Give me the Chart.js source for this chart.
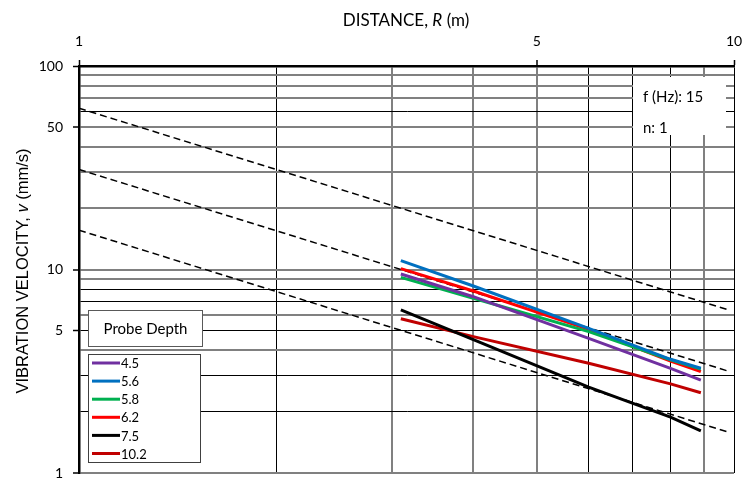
<!DOCTYPE html>
<html>
<head>
<meta charset="utf-8">
<script src="https://cdn.jsdelivr.net/npm/chart.js@4/dist/chart.umd.min.js"></script>
<style>
html, body { margin: 0; padding: 0; background: #fff; }
#wrap { width: 746px; height: 481px; position: relative; }
</style>
</head>
<body>
<div id="wrap"><canvas id="chart"></canvas></div>
<script>
// distances (m) at which the measured curves were read
const distances = [3.1, 4, 6, 8, 8.9];

// vibration velocity (mm/s) per probe depth
const depthLabels = ['4.5', '5.6', '5.8', '6.2', '7.5', '10.2'];
const depth45 = [9.5, 7.35, 4.59, 3.27, 2.86];
const depth56 = [11.05, 8.3, 5.14, 3.62, 3.27];
const depth58 = [9.15, 7.22, 4.95, 3.6, 3.24];
const depth62 = [10.1, 7.84, 5.08, 3.55, 3.15];
const depth75 = [6.34, 4.52, 2.64, 1.88, 1.61];
const depth102 = [5.73, 4.68, 3.46, 2.74, 2.48];
const depthColors = ['#7030A0', '#0070C0', '#00B050', '#FF0000', '#000000', '#C00000'];

// dashed reference lines (end points)
const refDistances = [1, 9.85];
const refHigh = [62, 6.3];
const refMid = [31, 3.15];
const refLow = [15.6, 1.58];

// axes
const xTicks = [1, 2, 3, 4, 5, 6, 7, 8, 9, 10];
const yTicks = [1, 2, 3, 4, 5, 6, 7, 8, 9, 10, 20, 30, 40, 50, 60, 70, 80, 90, 100];
const xLabels = [1, 5, 10];
const yLabels = [1, 5, 10, 50, 100];
const xGreyLines = [3, 4, 5, 9];
const yGreyLines = [1, 4, 6, 9, 10, 20, 30, 40, 50, 70, 80, 90];

const infoLines = ['f (Hz): 15', 'n: 1'];
const legendTitle = 'Probe Depth';

function points(xs, ys) {
    return xs.map((x, i) => ({ x: x, y: ys[i] }));
}

const seriesValues = [depth45, depth56, depth58, depth62, depth75, depth102];
const datasets = seriesValues.map((vals, i) => ({
    label: depthLabels[i],
    data: points(distances, vals),
    borderColor: depthColors[i],
    borderWidth: 3,
    pointRadius: 0,
    fill: false,
    tension: 0
}));
[refHigh, refMid, refLow].forEach(vals => {
    datasets.push({
        label: '',
        data: points(refDistances, vals),
        borderColor: '#000',
        borderWidth: 1.5,
        borderDash: [7, 4],
        pointRadius: 0,
        fill: false
    });
});

function drawMixed(ctx, parts, x, y, size, family) {
    let total = 0;
    parts.forEach(p => {
        ctx.font = (p.italic ? 'italic ' : '') + size + 'px ' + family;
        p.w = ctx.measureText(p.text).width;
        total += p.w;
    });
    let cx = x - total / 2;
    parts.forEach(p => {
        ctx.font = (p.italic ? 'italic ' : '') + size + 'px ' + family;
        ctx.fillText(p.text, cx, y);
        cx += p.w;
    });
}

// no extra room for edge tick labels, the plot box is fixed
function noEdgePadding(scale) {
    scale.paddingLeft = 0;
    scale.paddingRight = 0;
    scale.paddingTop = 0;
    scale.paddingBottom = 0;
}

const decorPlugin = {
    id: 'decor',
    afterDraw(chart) {
        const ctx = chart.ctx;
        ctx.save();
        ctx.fillStyle = '#000';
        ctx.textAlign = 'left';
        ctx.textBaseline = 'alphabetic';

        // axis titles
        drawMixed(ctx, [
            { text: 'DISTANCE, ' },
            { text: 'R', italic: true },
            { text: ' (m)' }
        ], 406, 26, 17, 'Lato');

        ctx.save();
        ctx.translate(28, 271);
        ctx.rotate(-Math.PI / 2);
        drawMixed(ctx, [
            { text: 'VIBRATION VELOCITY, ' },
            { text: 'v', italic: true },
            { text: ' (mm/s)' }
        ], 0, 0, 16.5, '"Liberation Sans"');
        ctx.restore();

        // info box top right
        ctx.fillStyle = '#fff';
        ctx.fillRect(633, 77, 93, 58);
        ctx.fillStyle = '#000';
        ctx.font = '15px Lato';
        ctx.textBaseline = 'middle';
        ctx.fillText(infoLines[0], 643, 97);
        ctx.fillText(infoLines[1], 643, 128);

        // legend title box
        ctx.fillStyle = '#fff';
        ctx.fillRect(88.5, 310.5, 114, 36);
        ctx.strokeStyle = '#595959';
        ctx.lineWidth = 1;
        ctx.strokeRect(88.5, 310.5, 114, 36);
        ctx.fillStyle = '#000';
        ctx.textAlign = 'center';
        ctx.font = '15px Lato';
        ctx.fillText(legendTitle, 145.5, 329);

        // legend entries
        ctx.fillStyle = '#fff';
        ctx.fillRect(88.5, 354.5, 112, 108);
        ctx.strokeStyle = '#404040';
        ctx.strokeRect(88.5, 354.5, 112, 108);
        ctx.textAlign = 'left';
        ctx.font = '13px Lato';
        chart.data.datasets.filter(d => d.label).forEach((d, i) => {
            const y = 363 + i * 18.1;
            ctx.strokeStyle = d.borderColor;
            ctx.lineWidth = 3;
            ctx.beginPath();
            ctx.moveTo(92, y);
            ctx.lineTo(120, y);
            ctx.stroke();
            ctx.fillStyle = '#000';
            ctx.fillText(d.label, 121, y + 1);
        });
        ctx.restore();
    }
};

const ctx = document.getElementById('chart').getContext('2d');
const chart = new Chart(ctx, {
    type: 'line',
    data: { datasets: datasets },
    plugins: [decorPlugin],
    options: {
        responsive: true,
        maintainAspectRatio: false,
        animation: false,
        devicePixelRatio: 1,
        layout: { padding: { left: 0, top: 0, right: 12, bottom: 8 } },
        plugins: {
            legend: { display: false },
            tooltip: { enabled: false }
        },
        scales: {
            x: {
                type: 'logarithmic',
                position: 'top',
                min: 1,
                max: 10,
                afterBuildTicks: scale => { scale.ticks = xTicks.map(v => ({ value: v })); },
                afterFit: scale => { scale.height = 66; noEdgePadding(scale); },
                ticks: {
                    autoSkip: false,
                    maxRotation: 0,
                    padding: 10,
                    color: '#000',
                    font: { family: 'Lato', size: 14 },
                    callback: v => xLabels.includes(v) ? String(v) : ''
                },
                grid: {
                    color: c => xGreyLines.includes(c.tick.value) ? '#808080' : '#000',
                    lineWidth: c => xGreyLines.includes(c.tick.value) ? 2 : 1,
                    tickLength: 6,
                    tickWidth: 1.5,
                    tickColor: c => xLabels.includes(c.tick.value) ? '#000' : 'rgba(0,0,0,0)'
                },
                border: { color: '#000', width: 2.5 }
            },
            y: {
                type: 'logarithmic',
                min: 1,
                max: 100,
                afterBuildTicks: scale => { scale.ticks = yTicks.map(v => ({ value: v })); },
                afterFit: scale => { scale.width = 79; noEdgePadding(scale); },
                ticks: {
                    autoSkip: false,
                    padding: 10,
                    color: '#000',
                    font: { family: 'Lato', size: 14 },
                    callback: v => yLabels.includes(v) ? String(v) : ''
                },
                grid: {
                    color: c => yGreyLines.includes(c.tick.value) ? '#808080' : '#000',
                    lineWidth: c => yGreyLines.includes(c.tick.value) ? 2 : 1,
                    tickLength: 6,
                    tickWidth: 1.5,
                    tickColor: c => yLabels.includes(c.tick.value) ? '#000' : 'rgba(0,0,0,0)'
                },
                border: { color: '#000', width: 2.5 }
            }
        }
    }
});
</script>
</body>
</html>
